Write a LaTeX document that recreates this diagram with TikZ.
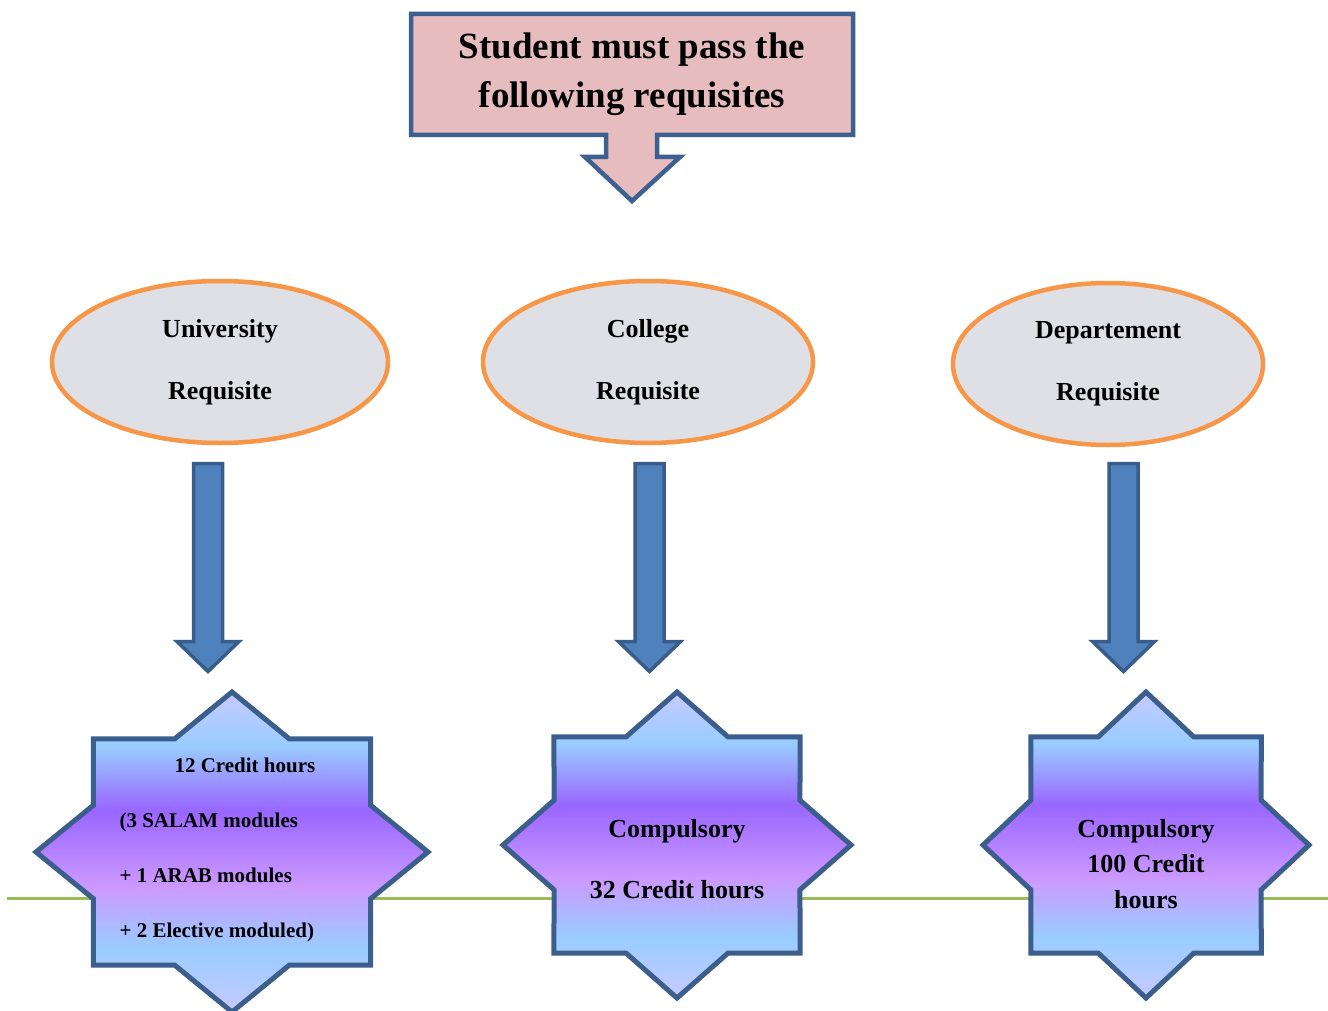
\documentclass[tikz,border=0pt]{standalone}
\usepackage{fontspec}
\setmainfont{Liberation Serif}
\usetikzlibrary{shapes.geometric}
\definecolor{calloutfill}{RGB}{230,188,191}
\definecolor{calloutline}{RGB}{60,96,144}
\definecolor{marble}{RGB}{223,224,229}
\definecolor{orangeline}{RGB}{247,150,70}
\definecolor{arrowfill}{RGB}{79,129,189}
\definecolor{arrowline}{RGB}{56,93,138}
\definecolor{starline}{RGB}{59,94,140}
\definecolor{greenline}{RGB}{155,187,89}
\definecolor{lav}{RGB}{198,202,255}
\definecolor{lblue}{RGB}{153,204,255}
\definecolor{purp}{RGB}{153,102,255}
\definecolor{lpurp}{RGB}{204,153,255}
\pgfdeclareverticalshading{starshade}{100bp}{color(0bp)=(lav); color(25bp)=(lav); color(35bp)=(lblue); color(44.5bp)=(lpurp); color(56.5bp)=(purp); color(66.5bp)=(lblue); color(75bp)=(lav); color(100bp)=(lav)}
\tikzset{
 callout/.style={draw=calloutline,line width=4.5pt,fill=calloutfill,line join=miter},
 reqtext/.style={align=center,font=\fontsize{37}{49}\selectfont\bfseries},
 reqbox/.style={ellipse,draw=orangeline,line width=4.5pt,fill=marble,minimum height=162pt,align=center,font=\fontsize{26}{62}\selectfont\bfseries},
 blockarrow/.style={draw=arrowline,line width=3.5pt,fill=arrowfill,line join=miter},
 burst/.style={draw=starline,line width=5pt,shade,shading=starshade,line join=miter},
 startext/.style={font=\fontsize{26}{61}\selectfont\bfseries,align=center},
 pics/downarrow/.style={code={\draw[blockarrow] (-14.5,0) -- (14.5,0) -- (14.5,178) -- (31,178) -- (0,208) -- (-31,178) -- (-14.5,178) -- cycle;}},
 pics/burst/.style 2 args={code={\draw[burst] plot[samples at={0,...,15}] ({#1*(1-0.235*mod(\x,2))*cos(22.5*\x)},{#2*(1-0.235*mod(\x,2))*sin(22.5*\x)}) -- cycle;}}
}
\begin{document}
\begin{tikzpicture}[x=1pt,y=-1pt]
\useasboundingbox (0,0) rectangle (1328,1011);
\coordinate (gl) at (7,898);
\coordinate (gr) at (1328,898);
\draw[greenline,line width=3pt] (gl) -- (gr);
\draw[callout] (411,14) -- (853,14) -- (853,135) -- (657,135) -- (657,157) -- (680,157) -- (632,201) -- (585,157) -- (606,157) -- (606,135) -- (411,135) -- cycle;
\node[reqtext] (req) at (632,74) {Student must pass the\\following requisites};
\node[reqbox,minimum width=336pt] (uni) at (220,362) {University\\Requisite};
\node[reqbox,minimum width=330pt] (col) at (648,362) {College\\Requisite};
\node[reqbox,minimum width=310pt] (dep) at (1108,364) {Departement\\Requisite};
\pic at (208,463.5) {downarrow};
\pic at (649.5,463.5) {downarrow};
\pic at (1123.5,463.5) {downarrow};
\pic at (232,852) {burst={196}{160}};
\pic at (677,845) {burst={174}{153}};
\pic at (1146,845) {burst={163}{153}};
\node[startext,font=\fontsize{21}{55}\selectfont\bfseries,align=left,anchor=west] (s1) at (116,850) {\hspace{55pt}12 Credit hours\\(3 SALAM modules\\+ 1 ARAB modules\\+ 2 Elective moduled)};
\node[startext] (s2) at (677,859.5) {Compulsory\\32 Credit hours};
\node[startext,font=\fontsize{26}{35.5}\selectfont\bfseries] (s3) at (1146,864) {Compulsory\\100 Credit\\hours};
\end{tikzpicture}
\end{document}
